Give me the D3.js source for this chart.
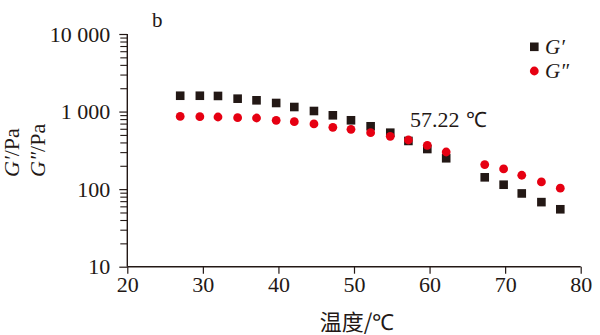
<!DOCTYPE html>
<html>
<head>
<meta charset="utf-8">
<script src="https://cdn.jsdelivr.net/npm/d3@7/dist/d3.min.js"></script>
<style>
  html, body { margin: 0; padding: 0; background: #fff; }
  svg { display: block; }
</style>
</head>
<body>
<svg id="chart" width="600" height="335"></svg>
<script>
// Temperature sweep (°C)
const temperature = [27.0, 29.6, 32.0, 34.6, 37.1, 39.7, 42.1, 44.7, 47.2, 49.6,
                     52.2, 54.8, 57.2, 59.7, 62.2, 67.3, 69.8, 72.2, 74.8, 77.3];
// Storage modulus G' (Pa)
const storageModulus = [1600, 1600, 1590, 1466, 1397, 1290, 1145, 1017, 895, 772,
                        646, 534, 418, 329, 250, 142, 114, 88, 68, 55];
// Loss modulus G'' (Pa)
const lossModulus = [865, 860, 851, 834, 826, 772, 740, 692, 627, 590,
                     534, 480, 430, 367, 301, 207, 182, 151, 124, 103];

const xTicks = [20, 30, 40, 50, 60, 70, 80];
const yTicks = [10, 100, 1000, 10000];
const yTickLabels = ["10", "100", "1 000", "10 000"];
const crossoverValue = "57.22";
const xTitleText = "温度/";

const ink = "#231815";
const red = "#e60012";
const serif = "'Liberation Serif', 'Times New Roman', serif";
const cjk = "'Noto Sans CJK SC', sans-serif";

const svg = d3.select("#chart");
const margin = { left: 127.3, right: 19.3, top: 34, bottom: 68.3 };
const W = 600, H = 335;

const x = d3.scaleLinear().domain([20, 80]).range([margin.left, W - margin.right]);
const y = d3.scaleLog().domain([10, 10000]).range([H - margin.bottom, margin.top]);

// Minor ticks for the log axis (2..9 per decade)
const minorTicks = [];
for (let d = 10; d < 10000; d *= 10) {
  for (let k = 2; k <= 9; k++) minorTicks.push(d * k);
}

// Y axis: minor ticks, then major ticks with labels
const yMinor = svg.append("g")
  .attr("transform", `translate(${margin.left},0)`)
  .call(d3.axisLeft(y).tickValues(minorTicks).tickSize(7).tickFormat(""));
yMinor.select(".domain").remove();
yMinor.selectAll("line").attr("stroke", ink).attr("stroke-width", 1.1);

const yAxis = svg.append("g")
  .attr("transform", `translate(${margin.left},0)`)
  .call(d3.axisLeft(y).tickValues(yTicks).tickSize(8).tickPadding(9)
    .tickFormat((d, i) => yTickLabels[i]));
yAxis.select(".domain").attr("stroke", ink).attr("stroke-width", 1.4).attr("d",
  `M0,${y(10)}V${y(10000)}`);
yAxis.selectAll("line").attr("stroke", ink).attr("stroke-width", 1.2);
yAxis.selectAll("text")
  .style("font-family", serif)
  .style("font-size", "22px").attr("fill", ink).attr("dy", "0.32em");

// X axis
const xAxis = svg.append("g")
  .attr("transform", `translate(0,${H - margin.bottom})`)
  .call(d3.axisBottom(x).tickValues(xTicks).tickSize(7).tickPadding(3));
xAxis.select(".domain").attr("stroke", ink).attr("stroke-width", 1.4)
  .attr("d", `M${x(20)},0H${x(80)}`);
xAxis.selectAll("line").attr("stroke", ink).attr("stroke-width", 1.2);
xAxis.selectAll("text")
  .style("font-family", serif)
  .style("font-size", "22px").attr("fill", ink);

// Data marks
const sq = 8.6;
svg.append("g").selectAll("rect")
  .data(temperature)
  .join("rect")
  .attr("x", (d) => x(d) - sq / 2)
  .attr("y", (d, i) => y(storageModulus[i]) - sq / 2)
  .attr("width", sq).attr("height", sq)
  .attr("fill", ink);

svg.append("g").selectAll("circle")
  .data(temperature)
  .join("circle")
  .attr("cx", (d) => x(d))
  .attr("cy", (d, i) => y(lossModulus[i]))
  .attr("r", 4.4)
  .attr("fill", red);

// Crossover annotation: number and unit set as separate runs
const annNum = svg.append("text")
  .attr("x", 410).attr("y", 127)
  .style("font-family", serif).style("font-size", "22px").attr("fill", ink)
  .text(crossoverValue);
const numW = annNum.node().getComputedTextLength();
svg.append("text")
  .attr("x", 410 + numW + 6).attr("y", 127)
  .style("font-family", serif).style("font-size", "21px").attr("fill", ink)
  .text("℃");

// Panel letter
svg.append("text")
  .attr("x", 152).attr("y", 27)
  .style("font-family", serif).style("font-size", "21px").attr("fill", ink)
  .text("b");

// Legend
const legend = svg.append("g");
legend.append("rect").attr("x", 530).attr("y", 42.5).attr("width", sq).attr("height", sq).attr("fill", ink);
legend.append("circle").attr("cx", 534.3).attr("cy", 71).attr("r", 4.4).attr("fill", red);
legend.append("text").attr("x", 545).attr("y", 54)
  .style("font-family", serif).style("font-size", "21px").style("font-style", "italic")
  .attr("fill", ink).text("G′");
legend.append("text").attr("x", 545).attr("y", 78)
  .style("font-family", serif).style("font-size", "21px").style("font-style", "italic")
  .attr("fill", ink).text("G″");

// Y axis title (two stacked, rotated lines)
function yTitle(xPos, prime) {
  const t = svg.append("text")
    .attr("transform", `translate(${xPos},177) rotate(-90)`)
    .style("font-family", serif).style("font-size", "22px").attr("fill", ink);
  t.append("tspan").style("font-style", "italic").text("G" + prime);
  t.append("tspan").text("/Pa");
}
yTitle(19, "′");
yTitle(45, "″");

// X axis title
const xt = svg.append("text")
  .attr("x", 357).attr("y", 330)
  .attr("text-anchor", "middle")
  .style("font-size", "22px").attr("fill", ink);
xt.append("tspan").style("font-family", cjk).text(xTitleText);
xt.append("tspan").style("font-family", serif).text("℃");
</script>
</body>
</html>
